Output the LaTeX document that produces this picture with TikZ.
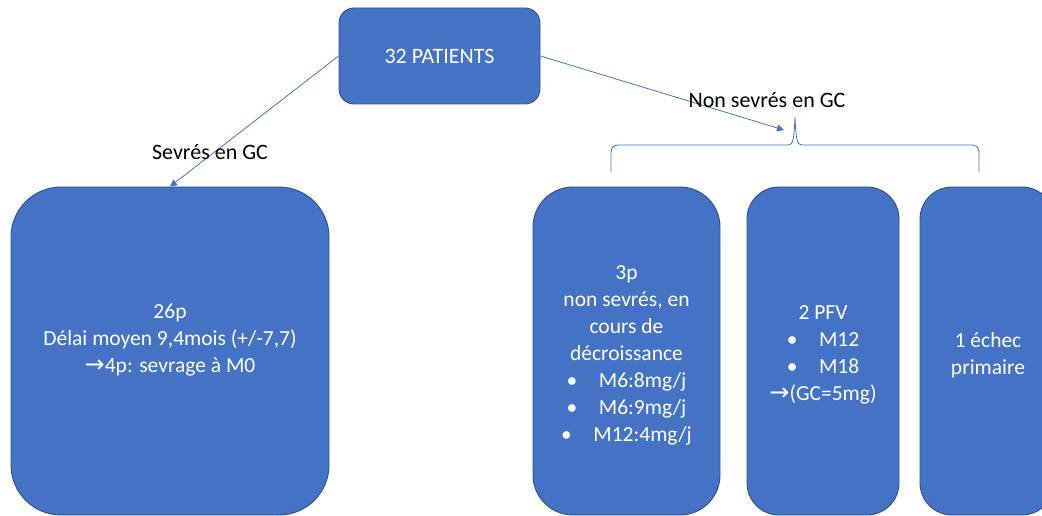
\documentclass[tikz,border=0pt]{standalone}
\usepackage{fontspec}
\setmainfont{Carlito}
\newfontfamily\symfont{DejaVu Sans}
\usetikzlibrary{arrows.meta}
\definecolor{boxblue}{HTML}{4472C4}
\definecolor{boxedge}{HTML}{2F528F}
\newcommand{\rarr}{{\symfont\fontsize{24}{27}\selectfont →}}
\tikzset{
  bluebox/.style={draw=boxedge, line width=0.9pt, fill=boxblue},
  boxtext/.style={text=white, align=center, inner sep=0pt,
    font=\fontsize{21.5}{27}\selectfont},
  link/.style={draw=boxblue, line width=0.8pt, -{Triangle[width=7pt,length=7pt]}},
  lbl/.style={text=black, font=\fontsize{22}{26}\selectfont, inner sep=0pt},
}
\begin{document}
\begin{tikzpicture}[x=1pt, y=-1pt]
  \useasboundingbox (0,0) rectangle (1042,516);

  % root box
  \node[bluebox, boxtext, rounded corners=15pt, minimum width=201pt, minimum height=96pt,
        font=\fontsize{22}{27}\selectfont]
    (root) at (439.5,56) {32 PATIENTS};

  % weaned branch
  \node[bluebox, rounded corners=50pt, minimum width=318pt, minimum height=328pt]
    (weaned) at (170,351) {};
  \node[boxtext] (weanedtxt) at (170,340)
    {26p\\Délai moyen 9,4mois (+/-7,7)\\\rarr4p: sevrage à M0};

  % not weaned branches
  \node[bluebox, rounded corners=40pt, minimum width=187pt, minimum height=328pt]
    (taper) at (626.5,351) {};
  \node[boxtext] (tapertxt) at (626.5,355)
    {3p\\non sevrés, en\\cours de\\décroissance\\
     •\quad M6:8mg/j\\•\quad M6:9mg/j\\•\quad M12:4mg/j};
  \node[bluebox, rounded corners=32pt, minimum width=152pt, minimum height=328pt]
    (pfv) at (823,351) {};
  \node[boxtext] (pfvtxt) at (823,355)
    {2 PFV\\•\quad M12\\•\quad M18\\\rarr(GC=5mg)};
  \node[bluebox, rounded corners=32pt, minimum width=134pt, minimum height=328pt]
    (fail) at (987,351) {};
  \node[boxtext] (failtxt) at (988,355) {1 échec\\primaire};

  % brace grouping the three right boxes
  \coordinate (brtip) at (795,117);
  \coordinate (arrend) at (784,130);
  \draw[boxblue, line width=0.8pt]
    (611,172) -- (611,154) .. controls (611,147) and (613,145) .. (620,145)
    -- (788,145) .. controls (793,145) and (794,140) .. (brtip)
    .. controls (796,140) and (797,145) .. (802,145)
    -- (970,145) .. controls (977,145) and (979,147) .. (979,154) -- (979,172);

  % connectors
  \draw[link] (root.west) -- (weaned.north);
  \draw[link] (root.east) -- (arrend);

  % labels
  \node[lbl] (lweaned) at (210,152) {Sevrés en GC};
  \node[lbl] (lnot) at (767,100) {Non sevrés en GC};
\end{tikzpicture}
\end{document}
